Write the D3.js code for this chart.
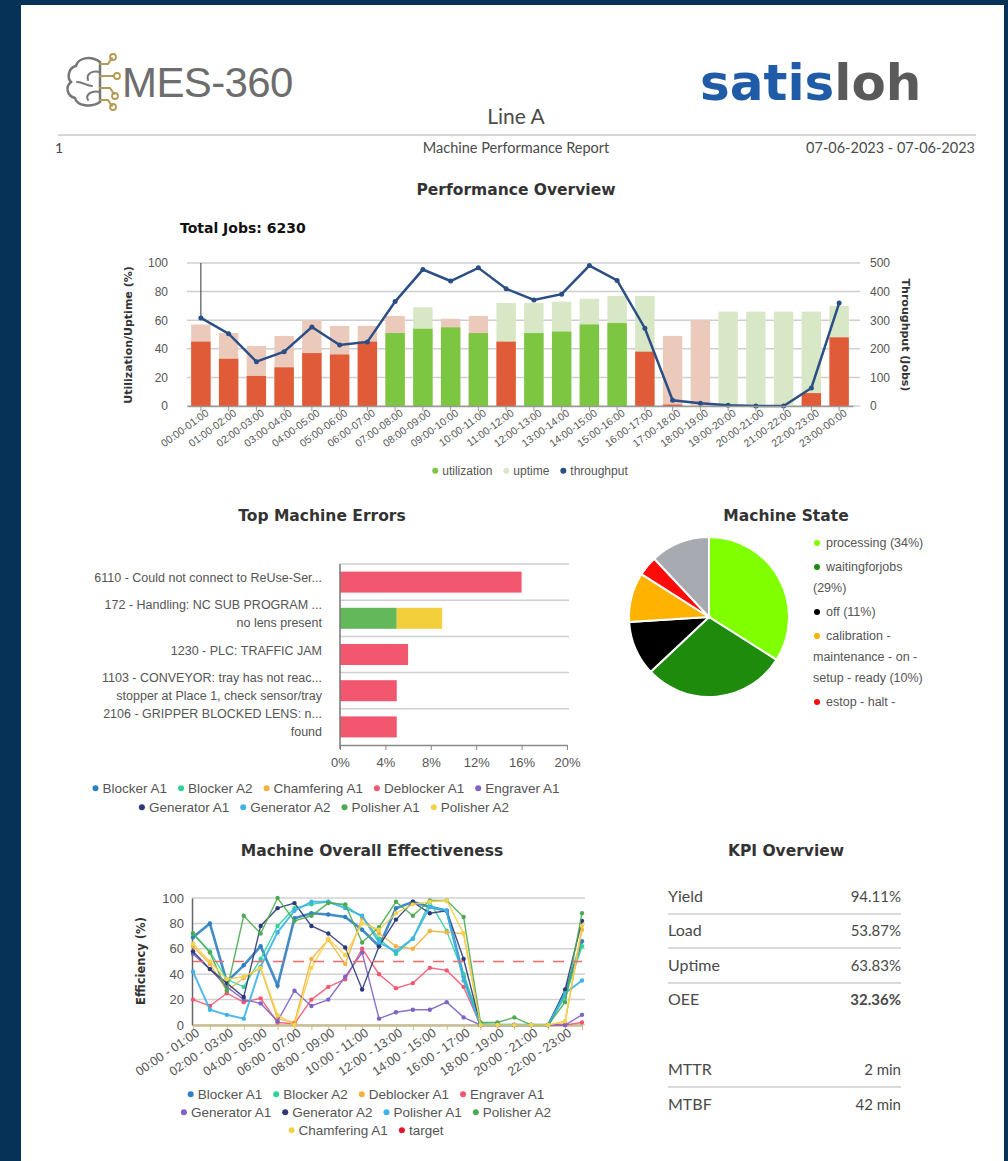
<!DOCTYPE html>
<html lang="en">
<head>
<meta charset="UTF-8">
<title>Machine Performance Report</title>
<style>
  body { margin: 0; background: #063257; }
  svg { display: block; }
  text { font-family: "Liberation Sans", Arial, sans-serif; fill: #555; }
  .title { font-family: "DejaVu Sans", sans-serif; font-weight: bold; fill: #333; }
  .kpi { font-family: Lato, "Open Sans", sans-serif; fill: #4a4a4a; }
</style>
</head>
<body>
<svg id="report" width="1008" height="1161"></svg>
<script src="https://d3js.org/d3.v7.min.js"></script>
<script>
// ---- Performance overview ----
const hours = ["00:00-01:00", "01:00-02:00", "02:00-03:00", "03:00-04:00", "04:00-05:00", "05:00-06:00",
  "06:00-07:00", "07:00-08:00", "08:00-09:00", "09:00-10:00", "10:00-11:00", "11:00-12:00",
  "12:00-13:00", "13:00-14:00", "14:00-15:00", "15:00-16:00", "16:00-17:00", "17:00-18:00",
  "18:00-19:00", "19:00-20:00", "20:00-21:00", "21:00-22:00", "22:00-23:00", "23:00-00:00"];
const utilization = [45, 33, 21, 27, 37, 36, 45, 51, 54, 55, 51, 45, 51, 52, 57, 58, 38, 1, 0, 0, 0, 0, 9, 48];
const uptime = [57, 51, 42, 49, 60, 56, 56, 63, 69, 61, 63, 72, 72, 73, 75, 77, 77, 49, 60, 66, 66, 66, 66, 70];
const throughput = [308, 253, 155, 190, 276, 213, 224, 365, 477, 437, 483, 410, 371, 391, 491, 439, 272, 20, 10, 3, 0, 0, 63, 360];
const totalJobs = 6230;

// ---- Top machine errors ----
const errorLabels = [
  ["6110 - Could not connect to ReUse-Ser..."],
  ["172 - Handling: NC SUB PROGRAM ...", "no lens present"],
  ["1230 - PLC: TRAFFIC JAM"],
  ["1103 - CONVEYOR: tray has not reac...", "stopper at Place 1, check sensor/tray"],
  ["2106 - GRIPPER BLOCKED LENS: n...", "found"]
];
const errorMachines = ["Blocker A1", "Blocker A2", "Chamfering A1", "Deblocker A1", "Engraver A1",
  "Generator A1", "Generator A2", "Polisher A1", "Polisher A2"];
const errDeblockerA1 = [16, 0, 6, 5, 5];
const errPolisherA1 = [0, 5, 0, 0, 0];
const errPolisherA2 = [0, 4, 0, 0, 0];
const errTicks = [0, 4, 8, 12, 16, 20];

// ---- Machine state ----
const stateNames = ["processing", "waitingforjobs", "off", "calibration - maintenance - on - setup - ready", "estop - halt -", "other"];
const stateShares = [34, 29, 11, 10, 4, 12];
const stateLegend = [["processing (34%)"], ["waitingforjobs", "(29%)"], ["off (11%)"],
  ["calibration -", "maintenance - on -", "setup - ready (10%)"], ["estop - halt -"]];

// ---- Machine overall effectiveness ----
const moeHours = hours.map(h => h.replace("-", " - "));
const moeNames = ["Blocker A1", "Blocker A2", "Deblocker A1", "Engraver A1", "Generator A1",
  "Generator A2", "Polisher A1", "Polisher A2", "Chamfering A1", "target"];
const moeBlockerA1 = [69, 80, 34, 47, 62, 31, 84, 88, 87, 85, 75, 62, 92, 97, 93, 90, 38, 0, 0, 0, 0, 0, 25, 66];
const moeBlockerA2 = [72, 58, 36, 30, 52, 78, 92, 95, 97, 94, 85, 68, 56, 68, 97, 74, 40, 1, 0, 0, 0, 0, 22, 62];
const moeDeblockerA1 = [62, 48, 27, 37, 45, 5, 2, 52, 67, 48, 84, 72, 62, 60, 74, 73, 72, 0, 0, 0, 0, 0, 2, 75];
const moeEngraverA1 = [20, 15, 25, 18, 21, 2, 1, 20, 30, 36, 60, 40, 29, 33, 45, 43, 30, 0, 0, 0, 0, 0, 0, 2];
const moeGeneratorA1 = [56, 44, 30, 20, 17, 3, 27, 15, 20, 38, 57, 5, 10, 12, 12, 18, 6, 0, 0, 0, 0, 0, 0, 8];
const moeGeneratorA2 = [58, 44, 33, 22, 78, 92, 96, 78, 72, 61, 28, 62, 83, 97, 88, 90, 52, 0, 0, 0, 0, 0, 28, 82];
const moePolisherA1 = [42, 12, 8, 5, 46, 73, 90, 97, 97, 92, 86, 65, 58, 68, 93, 90, 35, 0, 0, 0, 0, 0, 25, 35];
const moePolisherA2 = [72, 57, 27, 86, 72, 100, 82, 86, 96, 95, 65, 77, 97, 86, 98, 98, 85, 2, 2, 6, 0, 0, 18, 88];
const moeChamferingA1 = [64, 50, 36, 38, 45, 8, 0, 45, 68, 55, 80, 75, 88, 95, 97, 98, 72, 0, 0, 0, 0, 0, 3, 78];
const moeTarget = hours.map(() => 50);

// ---- KPI ----
const kpiNames = ["Yield", "Load", "Uptime", "OEE"];
const kpiValues = ["94.11%", "53.87%", "63.83%", "32.36%"];
const timeNames = ["MTTR", "MTBF"];
const timeValues = ["2 min", "42 min"];

// palette used by the machine charts (by series index)
const palette = ["#2f7fc4", "#2ed39c", "#f2b23f", "#f3566f", "#7e62c6", "#2c3a78", "#3fb2e6", "#4cab50", "#f6d24a", "#e3142e"];

const svg = d3.select("#report");

// page
svg.append("rect").attr("x", 21).attr("y", 5).attr("width", 983).attr("height", 1156).attr("fill", "#fff");

// legend helper: centered row of dot + label items
function legendRow(items, cx, y, size) {
  const row = svg.append("g");
  let x = 0;
  items.forEach(it => {
    const g = row.append("g").attr("transform", `translate(${x},0)`);
    g.append("circle").attr("cx", 3).attr("cy", -size * 0.35).attr("r", 3).attr("fill", it.color);
    const t = g.append("text").attr("x", 10).attr("font-size", size).text(it.name);
    x += 10 + t.node().getComputedTextLength() + 11;
  });
  row.attr("transform", `translate(${cx - (x - 11) / 2},${y})`);
}

// ---------------- header ----------------
const logo = svg.append("g").attr("fill", "none").attr("stroke-linecap", "round");
logo.append("path").attr("stroke", "#777").attr("stroke-width", 2.5)
  .attr("d", "M100,62 C90,55 78,58 76,66 C68,68 67,78 71,82 C65,87 67,96 75,98 C77,106 91,108 100,102 Z");
logo.append("path").attr("stroke", "#777").attr("stroke-width", 2)
  .attr("d", "M100,72 C92,70 86,74 88,80 M77,82 C83,82 87,86 92,86 M100,92 C91,90 85,95 88,100");
logo.append("path").attr("stroke", "#b39a55").attr("stroke-width", 2)
  .attr("d", "M100,64 L108,64 L112,58 M100,76 L114,76 M100,88 L110,88 L114,94 M100,100 L108,100 L112,106");
[[113, 57], [117, 76], [115, 96], [113, 107]].forEach(p =>
  logo.append("circle").attr("cx", p[0]).attr("cy", p[1]).attr("r", 3).attr("stroke", "#b39a55").attr("stroke-width", 1.8));
svg.append("text").attr("x", 122).attr("y", 97).attr("font-size", 42).style("fill", "#6d6d6d")
  .attr("letter-spacing", -0.6).text("MES-360");

const brand = svg.append("text").attr("x", 700).attr("y", 100).attr("font-size", 50)
  .style("font-family", "DejaVu Sans, sans-serif").attr("font-weight", "bold");
brand.append("tspan").style("fill", "#1f5ba6").text("satis");
brand.append("tspan").style("fill", "#5a5a5a").text("loh");

svg.append("text").attr("class", "kpi").attr("x", 516).attr("y", 124).attr("text-anchor", "middle")
  .attr("font-size", 21).text("Line A");
svg.append("line").attr("x1", 58).attr("x2", 976).attr("y1", 135).attr("y2", 135)
  .attr("stroke", "#d6d6d6").attr("stroke-width", 2);
svg.append("text").attr("class", "kpi").attr("x", 55).attr("y", 153).attr("font-size", 14).text("1");
svg.append("text").attr("class", "kpi").attr("x", 516).attr("y", 153).attr("text-anchor", "middle")
  .attr("font-size", 14.5).text("Machine Performance Report");
svg.append("text").attr("class", "kpi").attr("x", 975).attr("y", 153).attr("text-anchor", "end")
  .attr("font-size", 14.5).text("07-06-2023 - 07-06-2023");

// ---------------- performance overview ----------------
svg.append("text").attr("class", "title").attr("x", 516).attr("y", 195).attr("text-anchor", "middle")
  .attr("font-size", 15.5).text("Performance Overview");
svg.append("text").attr("class", "title").attr("x", 180).attr("y", 233).attr("font-size", 14)
  .style("fill", "#111").text("Total Jobs: " + totalJobs);

const xP = d3.scaleBand().domain(hours).range([187, 853]).paddingInner(0.3).paddingOuter(0.15);
const yL = d3.scaleLinear().domain([0, 100]).range([406, 263]);
const yR = d3.scaleLinear().domain([0, 500]).range([406, 263]);

svg.append("g").selectAll("line").data(yL.ticks(5)).join("line")
  .attr("x1", 187).attr("x2", 860).attr("y1", d => yL(d)).attr("y2", d => yL(d))
  .attr("stroke", "#cfcfcf").attr("stroke-width", 1.5);

const perf = svg.append("g");
perf.selectAll(".up").data(hours).join("rect")
  .attr("x", d => xP(d)).attr("width", xP.bandwidth())
  .attr("y", (d, i) => yL(uptime[i])).attr("height", (d, i) => yL(0) - yL(uptime[i]))
  .attr("fill", (d, i) => uptime[i] >= 65 ? "#d8e8c6" : "#ebcabb");
perf.selectAll(".ut").data(hours).join("rect")
  .attr("x", d => xP(d)).attr("width", xP.bandwidth())
  .attr("y", (d, i) => yL(utilization[i])).attr("height", (d, i) => yL(0) - yL(utilization[i]))
  .attr("fill", (d, i) => utilization[i] >= 50 ? "#7cc642" : "#e05b37");

const cx = d => xP(d) + xP.bandwidth() / 2;
perf.append("line").attr("x1", cx(hours[0])).attr("x2", cx(hours[0]))
  .attr("y1", yR(500)).attr("y2", yR(throughput[0])).attr("stroke", "#333").attr("stroke-width", 1);
perf.append("path").datum(hours)
  .attr("fill", "none").attr("stroke", "#2b4f85").attr("stroke-width", 2.5)
  .attr("d", d3.line().x(d => cx(d)).y((d, i) => yR(throughput[i])));
perf.selectAll(".tp").data(hours).join("circle")
  .attr("cx", d => cx(d)).attr("cy", (d, i) => yR(throughput[i])).attr("r", 2.5).attr("fill", "#2b4f85");

const axL = svg.append("g").attr("transform", "translate(176,0)")
  .call(d3.axisLeft(yL).ticks(5).tickSize(0).tickPadding(8));
axL.select(".domain").remove();
axL.selectAll("text").attr("font-size", 12).style("fill", "#555");
const axR = svg.append("g").attr("transform", "translate(862,0)")
  .call(d3.axisRight(yR).ticks(5).tickSize(0).tickPadding(8));
axR.select(".domain").remove();
axR.selectAll("text").attr("font-size", 12).style("fill", "#555");

const axB = svg.append("g").attr("transform", "translate(0,406)")
  .call(d3.axisBottom(xP).tickSize(5).tickSizeOuter(0));
axB.select(".domain").attr("stroke", "#999").attr("stroke-width", 1.5);
axB.selectAll(".tick line").attr("stroke", "#999");
axB.selectAll("text").attr("font-size", 10.5).style("fill", "#555")
  .attr("text-anchor", "end").attr("dx", 2).attr("dy", 4)
  .attr("transform", "rotate(-36)").attr("y", 8).attr("x", 0);

svg.append("text").attr("class", "title").attr("font-size", 11).style("fill", "#333")
  .attr("transform", "translate(132,335) rotate(-90)").attr("text-anchor", "middle").text("Utilization/Uptime (%)");
svg.append("text").attr("class", "title").attr("font-size", 11).style("fill", "#333")
  .attr("transform", "translate(902,335) rotate(90)").attr("text-anchor", "middle").text("Throughput (Jobs)");

legendRow([{ name: "utilization", color: "#7cc642" }, { name: "uptime", color: "#d8e8c6" },
  { name: "throughput", color: "#2b4f85" }], 530, 475, 12);

// ---------------- top machine errors ----------------
svg.append("text").attr("class", "title").attr("x", 322).attr("y", 521).attr("text-anchor", "middle")
  .attr("font-size", 15.5).text("Top Machine Errors");

const xE = d3.scaleLinear().domain([0, 20]).range([340, 567]);
const yE = d3.scaleBand().domain(d3.range(errorLabels.length)).range([564, 745]).paddingInner(0.42).paddingOuter(0.21);
const gapE = (yE.step() - yE.bandwidth()) / 2;

svg.append("g").selectAll("line").data(d3.range(errorLabels.length)).join("line")
  .attr("x1", 340).attr("x2", 569).attr("y1", d => yE(d) - gapE).attr("y2", d => yE(d) - gapE)
  .attr("stroke", "#cfcfcf").attr("stroke-width", 1.5);

const errTable = errorLabels.map((l, i) => {
  const row = { i: i };
  errorMachines.forEach(m => row[m] = 0);
  row["Deblocker A1"] = errDeblockerA1[i];
  row["Polisher A1"] = errPolisherA1[i];
  row["Polisher A2"] = errPolisherA2[i];
  return row;
});
const stacked = d3.stack().keys(errorMachines)(errTable);
svg.append("g").selectAll("g").data(stacked).join("g")
  .attr("fill", (s, k) => k === 7 ? "#63b95a" : k === 8 ? "#f4cf3c" : palette[k])
  .selectAll("rect").data(s => s).join("rect")
  .attr("x", d => xE(d[0])).attr("width", d => xE(d[1]) - xE(d[0]))
  .attr("y", d => yE(d.data.i)).attr("height", yE.bandwidth());

const axE = svg.append("g").attr("transform", "translate(0,745)")
  .call(d3.axisBottom(xE).tickValues(errTicks).tickFormat(d => d + "%").tickSize(5).tickSizeOuter(0).tickPadding(8));
axE.select(".domain").attr("stroke", "#888").attr("stroke-width", 1.5);
axE.selectAll(".tick line").attr("stroke", "#888");
axE.selectAll("text").attr("font-size", 13).style("fill", "#555");
svg.append("line").attr("x1", 340).attr("x2", 340).attr("y1", 564).attr("y2", 749)
  .attr("stroke", "#777").attr("stroke-width", 1.5);

errorLabels.forEach((lines, i) => {
  const mid = yE(i) + yE.bandwidth() / 2 - 4;
  const t = svg.append("text").attr("text-anchor", "end").attr("font-size", 12.5);
  lines.forEach((ln, j) => t.append("tspan").attr("x", 322)
    .attr("y", mid + 4 + (j - (lines.length - 1) / 2) * 18).text(ln));
});

legendRow(errorMachines.slice(0, 5).map((m, k) => ({ name: m, color: palette[k] })), 326, 793, 13.5);
legendRow(errorMachines.slice(5).map((m, k) => ({ name: m, color: k === 2 ? "#4cab50" : palette[k + 5] })), 324, 812, 13.5);

// ---------------- machine state ----------------
svg.append("text").attr("class", "title").attr("x", 786).attr("y", 521).attr("text-anchor", "middle")
  .attr("font-size", 15.5).text("Machine State");
const stateColors = ["#80ff00", "#1e8b0c", "#000000", "#ffb300", "#ff0a0a", "#a8aab2"];
const pie = d3.pie().sort(null).value(d => d)(stateShares);
const arc = d3.arc().innerRadius(0).outerRadius(80);
svg.append("g").attr("transform", "translate(709,617)")
  .selectAll("path").data(pie).join("path")
  .attr("d", arc).attr("fill", (d, i) => stateColors[i]).attr("stroke", "#fff").attr("stroke-width", 2);

let ly = 547;
stateLegend.forEach((lines, i) => {
  svg.append("circle").attr("cx", 817).attr("cy", ly - 4).attr("r", 3).attr("fill", stateColors[i]);
  lines.forEach((ln, j) => {
    svg.append("text").attr("x", j === 0 ? 826 : 813).attr("y", ly).attr("font-size", 12.5).text(ln);
    ly += j < lines.length - 1 ? 21 : 24;
  });
});

// ---------------- machine overall effectiveness ----------------
svg.append("text").attr("class", "title").attr("x", 372).attr("y", 856).attr("text-anchor", "middle")
  .attr("font-size", 15.5).text("Machine Overall Effectiveness");

const xM = d3.scalePoint().domain(moeHours).range([193, 582]);
const yM = d3.scaleLinear().domain([0, 100]).range([1025, 898]);

svg.append("g").selectAll("line").data(yM.ticks(5)).join("line")
  .attr("x1", 192).attr("x2", 585).attr("y1", d => yM(d)).attr("y2", d => yM(d))
  .attr("stroke", "#d2d2d2").attr("stroke-width", 1.5);

const axML = svg.append("g").attr("transform", "translate(192,0)")
  .call(d3.axisLeft(yM).ticks(5).tickSize(0).tickPadding(8));
axML.select(".domain").attr("stroke", "#666").attr("stroke-width", 1.5);
axML.selectAll("text").attr("font-size", 13).style("fill", "#555");

const axMB = svg.append("g").attr("transform", "translate(0,1025)")
  .call(d3.axisBottom(xM).tickSize(5).tickSizeOuter(0)
    .tickFormat((d, i) => i % 2 === 0 ? d : ""));
axMB.select(".domain").attr("stroke", "#c9bd92").attr("stroke-width", 2.5);
axMB.selectAll(".tick line").attr("stroke", "#c9bd92");
axMB.selectAll("text").attr("font-size", 12.5).style("fill", "#555")
  .attr("text-anchor", "end").attr("transform", "rotate(-34)").attr("y", 8).attr("x", 0).attr("dy", 4);

svg.append("text").attr("class", "title").attr("font-size", 11.5).style("fill", "#333")
  .attr("transform", "translate(145,961) rotate(-90)").attr("text-anchor", "middle").text("Efficiency (%)");

const moeSeries = [moeBlockerA1, moeBlockerA2, moeDeblockerA1, moeEngraverA1, moeGeneratorA1,
  moeGeneratorA2, moePolisherA1, moePolisherA2, moeChamferingA1];
const moeLine = d3.line().x((d, i) => xM(moeHours[i])).y(d => yM(d));
const moe = svg.append("g");
moeSeries.forEach((vals, k) => {
  moe.append("path").datum(vals).attr("fill", "none").attr("stroke", palette[k])
    .attr("stroke-width", k === 0 ? 2.6 : k === 6 ? 2 : 1.4).attr("stroke-opacity", 0.9).attr("d", moeLine);
  moe.selectAll(null).data(vals).join("circle")
    .attr("cx", (d, i) => xM(moeHours[i])).attr("cy", d => yM(d)).attr("r", 2.2).attr("fill", palette[k]);
});
moe.append("path").datum(moeTarget).attr("fill", "none").attr("stroke", "#f06a6a")
  .attr("stroke-width", 1.5).attr("stroke-dasharray", "11,9").attr("d", moeLine);

legendRow(moeNames.slice(0, 4).map((m, k) => ({ name: m, color: palette[k] })), 366, 1099, 13.5);
legendRow(moeNames.slice(4, 8).map((m, k) => ({ name: m, color: palette[k + 4] })), 366, 1117, 13.5);
legendRow(moeNames.slice(8).map((m, k) => ({ name: m, color: palette[k + 8] })), 366, 1135, 13.5);

// ---------------- KPI overview ----------------
svg.append("text").attr("class", "title").attr("x", 786).attr("y", 856).attr("text-anchor", "middle")
  .attr("font-size", 15.5).text("KPI Overview");
const kpiY = [902, 936, 971, 1005];
kpiNames.forEach((n, i) => {
  svg.append("text").attr("class", "kpi").attr("x", 668).attr("y", kpiY[i]).attr("font-size", 16).text(n);
  svg.append("text").attr("class", "kpi").attr("x", 901).attr("y", kpiY[i]).attr("text-anchor", "end")
    .attr("font-size", 15).attr("font-weight", n === "OEE" ? "bold" : "normal").text(kpiValues[i]);
  if (i < kpiNames.length - 1)
    svg.append("line").attr("x1", 668).attr("x2", 901).attr("y1", kpiY[i] + 12).attr("y2", kpiY[i] + 12)
      .attr("stroke", "#dadada").attr("stroke-width", 2);
});
const timeY = [1075, 1110];
timeNames.forEach((n, i) => {
  svg.append("text").attr("class", "kpi").attr("x", 668).attr("y", timeY[i]).attr("font-size", 16).text(n);
  svg.append("text").attr("class", "kpi").attr("x", 901).attr("y", timeY[i]).attr("text-anchor", "end")
    .attr("font-size", 15).text(timeValues[i]);
  if (i === 0)
    svg.append("line").attr("x1", 668).attr("x2", 901).attr("y1", timeY[i] + 12).attr("y2", timeY[i] + 12)
      .attr("stroke", "#dadada").attr("stroke-width", 2);
});
</script>
</body>
</html>
